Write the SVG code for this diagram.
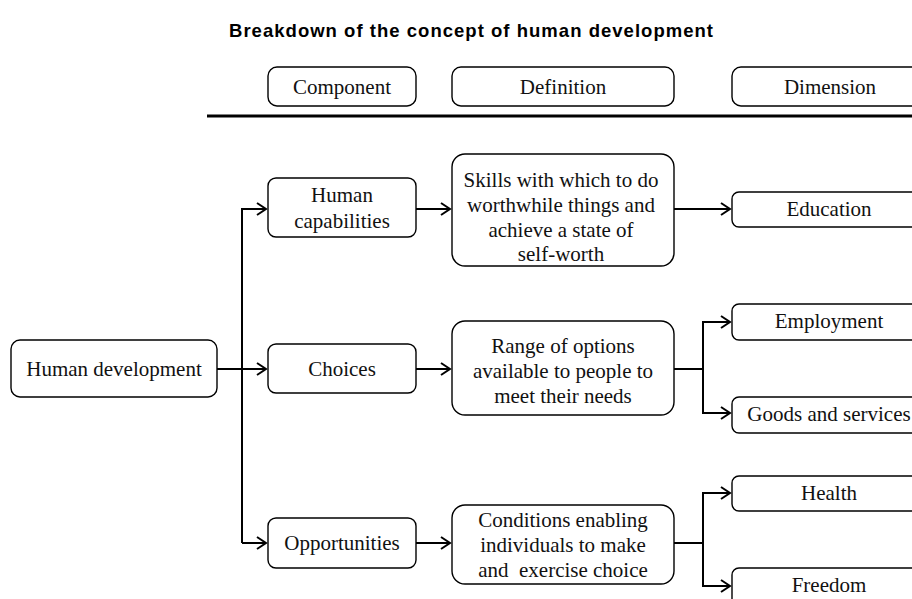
<svg xmlns="http://www.w3.org/2000/svg" width="912" height="599" viewBox="0 0 912 599">
<style>
.box{fill:#fff;stroke:#000;stroke-width:1.4}
.t{font-family:"Liberation Serif","Times New Roman",serif;font-size:21px;fill:#111;text-anchor:middle;dominant-baseline:central}
.title{font-family:"Liberation Sans",Arial,sans-serif;font-weight:bold;font-size:18.5px;fill:#000;text-anchor:middle}
.c{fill:none;stroke:#000;stroke-width:2}
</style>
<defs>
<marker id="ah" markerUnits="userSpaceOnUse" markerWidth="14" markerHeight="16" refX="10" refY="7" orient="auto" viewBox="0 0 14 16">
<path d="M1,1 L10,7 L1,13" fill="none" stroke="#000" stroke-width="2"/>
</marker>
</defs>
<rect width="912" height="599" fill="#fff"/>
<text class="title" x="471" y="37" textLength="484" lengthAdjust="spacing">Breakdown of the concept of human development</text>

<g id="header">
<g id="h-component"><rect class="box" x="268" y="67" width="148" height="39" rx="9"/><text class="t" x="342" y="87">Component</text></g>
<g id="h-definition"><rect class="box" x="452" y="67" width="222" height="39" rx="9"/><text class="t" x="563" y="87">Definition</text></g>
<g id="h-dimension"><rect class="box" x="732" y="67" width="200" height="39" rx="9"/><text class="t" x="830" y="87">Dimension</text></g>
<line x1="207" y1="116" x2="912" y2="116" stroke="#000" stroke-width="3"/>
</g>

<g id="connectors">
<line class="c" x1="217" y1="369" x2="242" y2="369" stroke-width="3"/>
<polyline class="c" points="242,543 242,209 266,209" marker-end="url(#ah)"/>
<line class="c" x1="242" y1="369" x2="266" y2="369" marker-end="url(#ah)"/>
<line class="c" x1="242" y1="543" x2="266" y2="543" marker-end="url(#ah)"/>
<line class="c" x1="416" y1="209" x2="450" y2="209" marker-end="url(#ah)"/>
<line class="c" x1="416" y1="369" x2="450" y2="369" marker-end="url(#ah)"/>
<line class="c" x1="416" y1="543" x2="450" y2="543" marker-end="url(#ah)"/>
<line class="c" x1="674" y1="209" x2="730" y2="209" marker-end="url(#ah)"/>
<line class="c" x1="674" y1="369" x2="703" y2="369"/>
<polyline class="c" points="730,322 703,322 703,413 730,413" marker-end="url(#ah)"/>
<line class="c" x1="703" y1="322" x2="730" y2="322" marker-end="url(#ah)"/>
<line class="c" x1="674" y1="543" x2="703" y2="543"/>
<polyline class="c" points="730,493 703,493 703,586 730,586" marker-end="url(#ah)"/>
<line class="c" x1="703" y1="493" x2="730" y2="493" marker-end="url(#ah)"/>
</g>

<g id="n-human-development"><rect class="box" x="11" y="340" width="206" height="57" rx="9"/><text class="t" x="114" y="369">Human development</text></g>

<g id="n-human-capabilities"><rect class="box" x="268" y="178" width="148" height="59" rx="8"/><text class="t" x="342" y="195">Human</text><text class="t" x="342" y="221">capabilities</text></g>
<g id="n-choices"><rect class="box" x="268" y="344" width="148" height="49" rx="8"/><text class="t" x="342" y="369">Choices</text></g>
<g id="n-opportunities"><rect class="box" x="268" y="518" width="148" height="50" rx="8"/><text class="t" x="342" y="543">Opportunities</text></g>

<g id="n-skills"><rect class="box" x="452" y="154" width="222" height="112" rx="13"/>
<text class="t" x="561" y="180">Skills with which to do</text>
<text class="t" x="561" y="205">worthwhile things and</text>
<text class="t" x="561" y="230">achieve a state of</text>
<text class="t" x="561" y="254">self-worth</text></g>
<g id="n-range"><rect class="box" x="452" y="321" width="222" height="94" rx="13"/>
<text class="t" x="563" y="346">Range of options</text>
<text class="t" x="563" y="371">available to people to</text>
<text class="t" x="563" y="396">meet their needs</text></g>
<g id="n-conditions"><rect class="box" x="452" y="505" width="222" height="79" rx="13"/>
<text class="t" x="563" y="520">Conditions enabling</text>
<text class="t" x="563" y="545">individuals to make</text>
<text class="t" x="563" y="570" xml:space="preserve">and  exercise choice</text></g>

<g id="n-education"><rect class="box" x="732" y="192" width="200" height="35" rx="7"/><text class="t" x="829" y="209">Education</text></g>
<g id="n-employment"><rect class="box" x="732" y="304" width="200" height="36" rx="7"/><text class="t" x="829" y="321">Employment</text></g>
<g id="n-goods"><rect class="box" x="732" y="397" width="200" height="36" rx="7"/><text class="t" x="829" y="414">Goods and services</text></g>
<g id="n-health"><rect class="box" x="732" y="476" width="200" height="35" rx="7"/><text class="t" x="829" y="493">Health</text></g>
<g id="n-freedom"><rect class="box" x="732" y="568" width="200" height="40" rx="7"/><text class="t" x="829" y="585">Freedom</text></g>
</svg>
